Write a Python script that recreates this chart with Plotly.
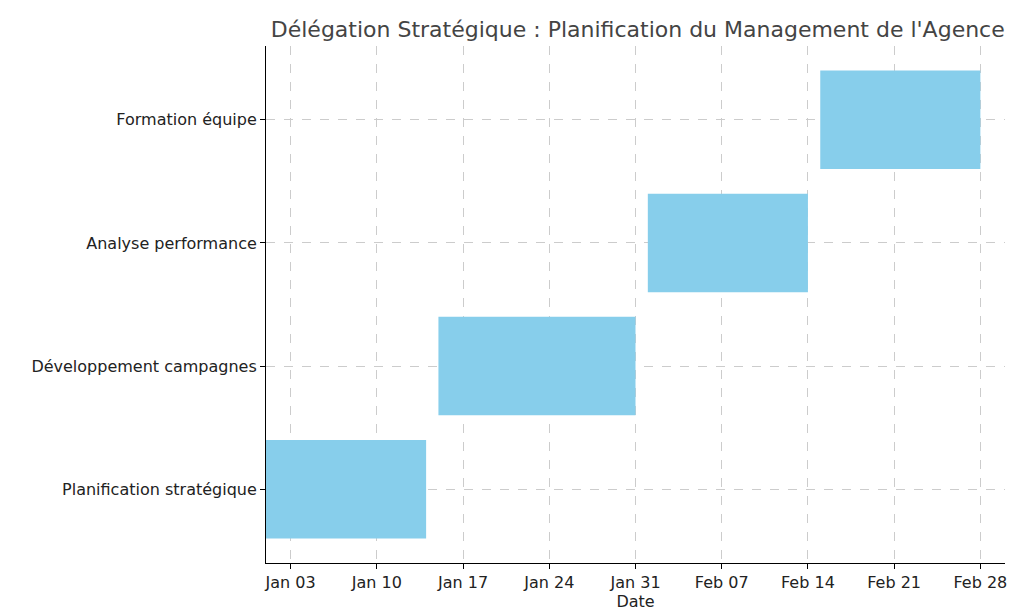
import plotly.graph_objects as go
import pandas as pd

taches = ["Planification stratégique", "Développement campagnes", "Analyse performance", "Formation équipe"]
debuts = ["2024-01-01", "2024-01-15", "2024-02-01", "2024-02-15"]
fins = ["2024-01-14", "2024-01-31", "2024-02-14", "2024-02-28"]
ticks = ["2024-01-03", "2024-01-10", "2024-01-17", "2024-01-24", "2024-01-31",
         "2024-02-07", "2024-02-14", "2024-02-21", "2024-02-28"]

durees = [(pd.Timestamp(f) - pd.Timestamp(d)).total_seconds() * 1000 for d, f in zip(debuts, fins)]

fig = go.Figure()
fig.add_trace(go.Bar(y=taches, x=durees, base=debuts, orientation="h",
                     marker_color="skyblue", marker_line_width=0, width=0.8))

fig.update_layout(
    width=1024, height=610,
    margin=dict(l=258, r=27, t=38, b=55),
    plot_bgcolor="white", paper_bgcolor="white",
    font=dict(family="DejaVu Sans", size=16, color="#222222"),
    title=dict(text="Délégation Stratégique : Planification du Management de l'Agence",
               x=0.615, xanchor="center", y=0.965, yanchor="middle",
               font=dict(size=22, color="#444444")),
    showlegend=False,
)
fig.update_xaxes(type="date", range=["2024-01-01", "2024-03-01"],
                 tickvals=ticks, tickformat="%b %d",
                 showgrid=True, gridcolor="#cccccc", griddash="dash", gridwidth=1,
                 showline=True, linecolor="black", linewidth=1,
                 ticks="outside", ticklen=5, tickcolor="black",
                 title=dict(text="Date", standoff=4, font=dict(size=16)))
fig.update_yaxes(range=[-0.6, 3.6],
                 showgrid=True, gridcolor="#cccccc", griddash="dash", gridwidth=1,
                 showline=True, linecolor="black", linewidth=1,
                 ticks="outside", ticklen=5, tickcolor="black")

fig.write_html("out.html")
